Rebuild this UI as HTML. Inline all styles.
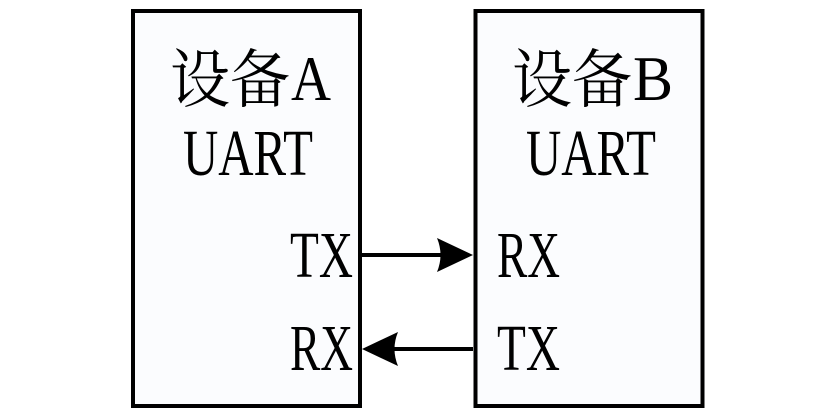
<!DOCTYPE html>
<html><head><meta charset="utf-8"><style>
html,body{margin:0;padding:0;background:#fff;}
svg{display:block;}
text{font-family:"Liberation Serif",serif;fill:#000;}
.cjk{font-family:"Noto Serif CJK SC","Liberation Serif",serif;}
</style></head><body>
<svg width="818" height="415" viewBox="0 0 818 415" xmlns="http://www.w3.org/2000/svg">
<rect x="133" y="11" width="227" height="395" fill="#fbfcfe" stroke="#000" stroke-width="4"/>
<rect x="475.5" y="11" width="227" height="395" fill="#fbfcfe" stroke="#000" stroke-width="4"/>
<text class="cjk" x="170" y="102" font-size="64" textLength="120" lengthAdjust="spacingAndGlyphs">设备</text>
<text x="291" y="100" font-size="64" textLength="40" lengthAdjust="spacingAndGlyphs">A</text>
<text class="cjk" x="512" y="102" font-size="64" textLength="120" lengthAdjust="spacingAndGlyphs">设备</text>
<text x="633" y="100" font-size="64" textLength="40" lengthAdjust="spacingAndGlyphs">B</text>
<text x="183" y="175" font-size="66" textLength="130" lengthAdjust="spacingAndGlyphs">UART</text>
<text x="526" y="175" font-size="66" textLength="130" lengthAdjust="spacingAndGlyphs">UART</text>
<text x="290" y="277" font-size="66" textLength="63" lengthAdjust="spacingAndGlyphs">TX</text>
<text x="290" y="370" font-size="66" textLength="63" lengthAdjust="spacingAndGlyphs">RX</text>
<text x="497" y="277" font-size="66" textLength="63" lengthAdjust="spacingAndGlyphs">RX</text>
<text x="497" y="370" font-size="66" textLength="63" lengthAdjust="spacingAndGlyphs">TX</text>
<line x1="362" y1="255" x2="445" y2="255" stroke="#000" stroke-width="4"/>
<path d="M473,255 L437,238 Q444,255 437,272 Z" fill="#000"/>
<line x1="390" y1="349" x2="473" y2="349" stroke="#000" stroke-width="4"/>
<path d="M362,349 L398,332 Q391,349 398,366 Z" fill="#000"/>
</svg>
</body></html>
